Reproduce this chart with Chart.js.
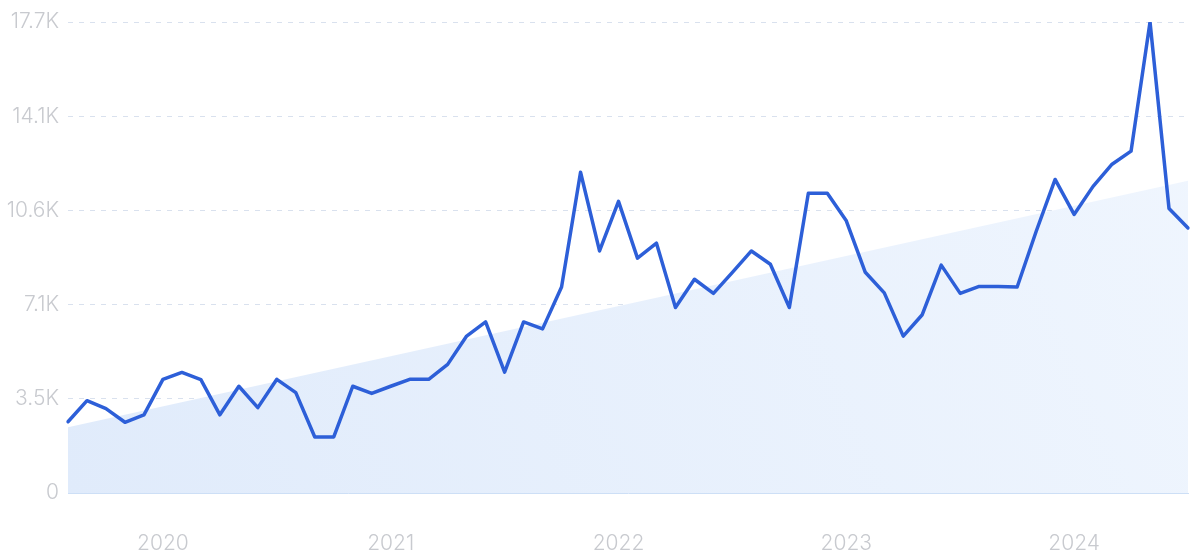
<!DOCTYPE html>
<html>
<head>
<meta charset="utf-8">
<script src="https://cdn.jsdelivr.net/npm/chart.js@4/dist/chart.umd.min.js"></script>
<style>
  html, body { margin: 0; padding: 0; background: #ffffff; }
  #wrap { width: 1200px; height: 556px; position: relative; }
</style>
</head>
<body>
<div id="wrap"><canvas id="c" width="1200" height="556"></canvas></div>
<script>
const months = [
  '2019-08','2019-09','2019-10','2019-11','2019-12',
  '2020-01','2020-02','2020-03','2020-04','2020-05','2020-06','2020-07','2020-08','2020-09','2020-10','2020-11','2020-12',
  '2021-01','2021-02','2021-03','2021-04','2021-05','2021-06','2021-07','2021-08','2021-09','2021-10','2021-11','2021-12',
  '2022-01','2022-02','2022-03','2022-04','2022-05','2022-06','2022-07','2022-08','2022-09','2022-10','2022-11','2022-12',
  '2023-01','2023-02','2023-03','2023-04','2023-05','2023-06','2023-07','2023-08','2023-09','2023-10','2023-11','2023-12',
  '2024-01','2024-02','2024-03','2024-04','2024-05','2024-06','2024-07'
];
const searches = [
  2670, 3460, 3160, 2650, 2930,
  4260, 4520, 4250, 2930, 4000, 3200, 4260, 3760, 2100, 2100, 4000, 3730,
  4000, 4260, 4260, 4820, 5880, 6410, 4530, 6410, 6150, 7720, 12020, 9070,
  10930, 8800, 9360, 6950, 8010, 7480, 8270, 9070, 8570, 6950, 11230, 11230,
  10200, 8270, 7500, 5880, 6680, 8540, 7480, 7740, 7740, 7720, 9800, 11750,
  10440, 11490, 12320, 12810, 17650, 10660, 9930
];
const trendEnds = [2460, 11700];
const yearTicks = ['2020', '2021', '2022', '2023', '2024'];
const yTickLabels = ['0', '3.5K', '7.1K', '10.6K', '14.1K', '17.7K'];
const yMax = 17650;
const yStep = 3530;

const trendData = [
  { x: months[0], y: trendEnds[0] },
  { x: months[months.length - 1], y: trendEnds[1] }
];

const labelFont = { family: 'Inter', size: 21, weight: '300' };

const ctx = document.getElementById('c').getContext('2d');
new Chart(ctx, {
  type: 'line',
  data: {
    labels: months,
    datasets: [
      {
        label: 'Searches',
        data: searches,
        borderColor: '#2d5fd8',
        borderWidth: 3.5,
        borderJoinStyle: 'round',
        borderCapStyle: 'round',
        pointRadius: 0,
        tension: 0,
        fill: false,
        order: 0
      },
      {
        label: 'Trend',
        data: trendData,
        borderColor: 'rgba(0,0,0,0)',
        borderWidth: 0,
        pointRadius: 0,
        tension: 0,
        fill: 'origin',
        order: 1,
        backgroundColor: function (context) {
          const chart = context.chart;
          const a = chart.chartArea;
          if (!a) return '#e6effc';
          const g = chart.ctx.createLinearGradient(a.left, a.bottom, a.right, a.top);
          g.addColorStop(0, '#e0ebfb');
          g.addColorStop(1, '#f0f6fe');
          return g;
        }
      }
    ]
  },
  options: {
    responsive: false,
    animation: false,
    events: [],
    layout: { padding: { top: 22, right: 12, left: 0, bottom: 0 } },
    plugins: {
      legend: { display: false },
      tooltip: { enabled: false }
    },
    scales: {
      x: {
        type: 'category',
        offset: false,
        grid: { display: false },
        border: { display: true, color: '#cddff6', width: 1 },
        ticks: {
          autoSkip: false,
          maxRotation: 0,
          minRotation: 0,
          padding: 30,
          color: '#c8cacf',
          font: labelFont,
          callback: function (val, idx) {
            const m = months[idx];
            if (m && m.endsWith('-01')) {
              const y = m.slice(0, 4);
              return yearTicks.includes(y) ? y : '';
            }
            return '';
          }
        },
        afterFit: function (s) {
          s.height = 63;
          s.paddingLeft = 0;
          s.paddingRight = 0;
        }
      },
      y: {
        min: 0,
        max: yMax,
        grid: {
          color: '#d9e1ee',
          lineWidth: 1,
          drawTicks: false
        },
        border: { display: false, dash: [5, 6] },
        ticks: {
          stepSize: yStep,
          padding: 9,
          color: '#c8cacf',
          font: labelFont,
          callback: function (val, idx) {
            return yTickLabels[idx] !== undefined ? yTickLabels[idx] : '';
          }
        },
        afterFit: function (s) {
          s.width = 68;
          s.paddingTop = 0;
          s.paddingBottom = 0;
        }
      }
    }
  }
});
</script>
</body>
</html>
